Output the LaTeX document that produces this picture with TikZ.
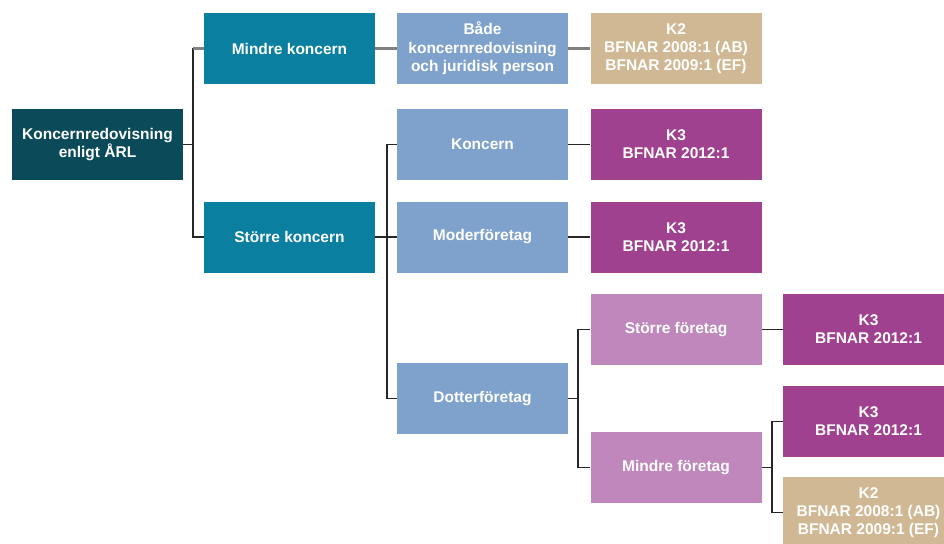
\documentclass[tikz,border=0pt]{standalone}
\usepackage{fontspec}
\setmainfont{Liberation Sans}

\definecolor{arlcol}{HTML}{0B4A58}
\definecolor{koncol}{HTML}{0A7FA0}
\definecolor{typcol}{HTML}{7FA2CC}
\definecolor{kdcol}{HTML}{CFB893}
\definecolor{ktcol}{HTML}{9F418F}
\definecolor{ftgcol}{HTML}{BF87BB}

\begin{document}
\begin{tikzpicture}[x=1pt,y=-1pt,
    box/.style={rectangle,minimum width=171pt,minimum height=71pt,inner sep=2pt,
        align=center,text=white,font=\bfseries\fontsize{15.5}{18.3}\selectfont},
    link/.style={draw=black!85,line width=1.2pt},
    toplink/.style={draw=black!50,line width=2.6pt}]

    \useasboundingbox (0,0) rectangle (944,543);
    \clip (0,0) rectangle (944,543);

    \node[box,fill=arlcol] (arl) at (97.5,144.5) {Koncernredovisning\\enligt ÅRL};
    \node[box,fill=koncol] (mindre) at (289.5,48.5) {Mindre koncern};
    \node[box,fill=koncol] (storre) at (289.5,237) {Större koncern};

    \node[box,fill=typcol] (bade) at (482.5,48.5) {Både\\koncernredovisning\\och juridisk person};
    \node[box,fill=typcol] (koncern) at (482.5,144.5) {Koncern};
    \node[box,fill=typcol] (moder) at (482.5,237) {Moderföretag};
    \node[box,fill=typcol] (dotter) at (482.5,398.5) {Dotterföretag};

    \node[box,fill=kdcol] (k2a) at (676,48.5) {K2\\BFNAR 2008:1 (AB)\\BFNAR 2009:1 (EF)};
    \node[box,fill=ktcol] (k3a) at (676,144.5) {K3\\BFNAR 2012:1};
    \node[box,fill=ktcol] (k3b) at (676,237) {K3\\BFNAR 2012:1};
    \node[box,fill=ftgcol] (storreft) at (676,329.5) {Större företag};
    \node[box,fill=ftgcol] (mindreft) at (676,467.5) {Mindre företag};

    \node[box,fill=ktcol] (k3c) at (868.5,329.5) {K3\\BFNAR 2012:1};
    \node[box,fill=ktcol] (k3d) at (868.5,421.5) {K3\\BFNAR 2012:1};
    \node[box,fill=kdcol] (k2b) at (868.5,512.5) {K2\\BFNAR 2008:1 (AB)\\BFNAR 2009:1 (EF)};

    % junctions
    \coordinate (j1) at (193,144.5);
    \coordinate (j2) at (387,237);
    \coordinate (j3) at (578,398.5);
    \coordinate (j4) at (772,467.5);

    \draw[link] (arl.east) -- (j1) |- (storre.west);
    \draw[link] (j1) -- (j1 |- mindre.west);
    \draw[toplink] (j1 |- mindre.west) -- (mindre.west);
    \draw[toplink] (mindre.east) -- (bade.west);
    \draw[toplink] (bade.east) -- (k2a.west);

    \draw[link] (storre.east) -- (j2) |- (dotter.west);
    \draw[link] (j2) |- (koncern.west);
    \draw[link] (j2) -- (moder.west);
    \draw[link] (koncern.east) -- (k3a.west);
    \draw[link] (moder.east) -- (k3b.west);

    \draw[link] (dotter.east) -- (j3) |- (storreft.west);
    \draw[link] (j3) |- (mindreft.west);
    \draw[link] (storreft.east) -- (k3c.west);

    \draw[link] (mindreft.east) -- (j4) |- (k3d.west);
    \draw[link] (j4) |- (k2b.west);
\end{tikzpicture}
\end{document}
